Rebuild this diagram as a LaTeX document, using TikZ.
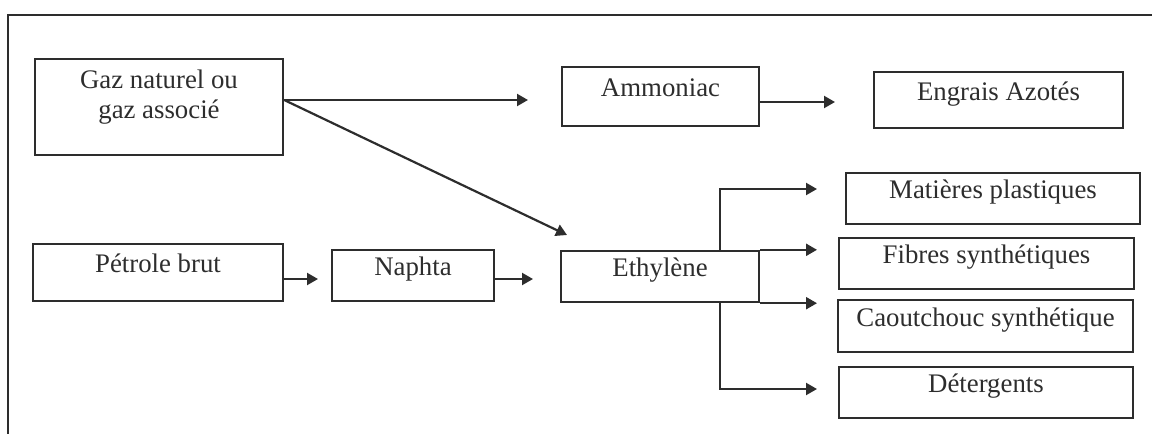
\documentclass[tikz,border=0pt]{standalone}
\usepackage{fontspec}
\setmainfont{Liberation Serif}
\usetikzlibrary{arrows.meta, calc}
\definecolor{ink}{RGB}{45, 45, 45}

\begin{document}
\begin{tikzpicture}[x=0.5pt, y=-0.5pt,
  box/.style={draw=ink, line width=1.2pt, text=ink, inner sep=0pt,
    font=\fontsize{13.4}{15}\selectfont, text height=9pt, text depth=9pt},
  link/.style={draw=ink, line width=1.1pt, -{Triangle[length=5.5pt, width=6pt]}}]
  \useasboundingbox (0,0) rectangle (1152,434);
  \path[draw=ink, line width=1.2pt] (8,434) -- (8,15) -- (1152,15);

  \node[box, minimum width=124pt, minimum height=48pt, align=center,
    text height=24pt, text depth=13pt] (gaz) at (159,107) {Gaz naturel ou\\gaz associé};
  \node[box, minimum width=98.5pt,  minimum height=29.5pt] (ammo)    at (660.5,96.5) {Ammoniac};
  \node[box, minimum width=124.5pt, minimum height=28pt]   (engrais) at (998.5,100)  {Engrais Azotés};
  \node[box, minimum width=125pt,   minimum height=28.5pt] (petrole) at (158,272.5)  {Pétrole brut};
  \node[box, minimum width=81pt,    minimum height=25.5pt] (naphta)  at (413,275.5)  {Naphta};
  \node[box, minimum width=99pt,    minimum height=25.5pt] (eth)     at (660,276.5)  {Ethylène};
  \node[box, minimum width=147pt,   minimum height=25.5pt] (mat)     at (993,198.5)  {Matières plastiques};
  \node[box, minimum width=147.5pt, minimum height=25.5pt] (fibres)  at (986.5,263.5) {Fibres synthétiques};
  \node[box, minimum width=147.5pt, minimum height=26pt]   (caout)   at (985.5,326)  {Caoutchouc synthétique};
  \node[box, minimum width=147pt,   minimum height=25.5pt] (deterg)  at (986,392.5)  {Détergents};

  \coordinate (gazout)    at ([yshift=3.5pt]gaz.east);
  \coordinate (ammoin)    at (528,100);
  \coordinate (ethtop)    at (567,235);
  \coordinate (engraisin) at (835,102);
  \coordinate (naphtain)  at (318,279);
  \coordinate (ethin)     at (533,279);
  \coordinate (fork)      at (720,276.5);
  \coordinate (matin)     at (817,189);
  \coordinate (detergin)  at (817,389);

  \draw[link] (gazout) -- (ammoin);
  \draw[link] (gazout) -- (ethtop);
  \draw[link] (ammo.east |- engraisin) -- (engraisin);
  \draw[link] (petrole.east |- naphtain) -- (naphtain);
  \draw[link] (naphta.east |- ethin) -- (ethin);

  \draw[link] (fork |- eth.north) |- (matin);
  \draw[link] (eth.north east) -- (eth.north east -| matin);
  \draw[link] (eth.south east) -- (eth.south east -| matin);
  \draw[link] (fork |- eth.south) |- (detergin);

\end{tikzpicture}
\end{document}
